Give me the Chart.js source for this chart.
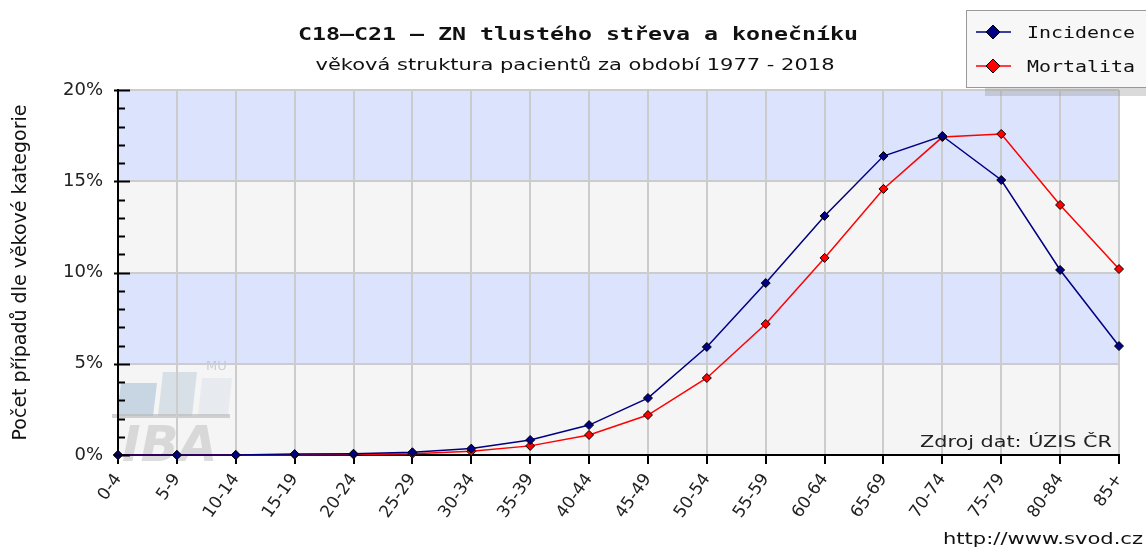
<!DOCTYPE html>
<html>
<head>
<meta charset="utf-8">
<script src="https://cdn.jsdelivr.net/npm/chart.js@4.4.1/dist/chart.umd.min.js"></script>
<style>
  html, body { margin:0; padding:0; background:#fff; }
  #wrap { width:1146px; height:547px; position:relative; }
</style>
</head>
<body>
<div id="wrap"><canvas id="c" width="1146" height="547"></canvas></div>
<script>
'use strict';

// --- Data ---
const ageGroups = ['0-4','5-9','10-14','15-19','20-24','25-29','30-34','35-39','40-44',
  '45-49','50-54','55-59','60-64','65-69','70-74','75-79','80-84','85+'];
const incidence = [0, 0, 0, 0.05, 0.07, 0.15, 0.35, 0.82, 1.64, 3.12, 5.92, 9.42, 13.1, 16.38, 17.48, 15.07, 10.14, 5.97];
const mortalita = [0, 0, 0, 0.02, 0.03, 0.07, 0.2, 0.5, 1.1, 2.19, 4.22, 7.18, 10.8, 14.58, 17.42, 17.59, 13.7, 10.19];
const yTicks = [0, 5, 10, 15, 20];

const titleText = 'C18–C21 – ZN tlustého střeva a konečníku';
const subtitleText = 'věková struktura pacientů za období 1977 - 2018';
const yTitle = 'Počet případů dle věkové kategorie';
const sourceText = 'Zdroj dat: ÚZIS ČR';
const urlText = 'http://www.svod.cz';

// --- Helpers ---
// text stretched horizontally to a target width (the original renderer draws wide glyphs)
function wideText(ctx, txt, x, y, font, targetW, align, color){
  ctx.save();
  ctx.font = font;
  ctx.fillStyle = color || '#111';
  ctx.textBaseline = 'alphabetic';
  const w = ctx.measureText(txt).width;
  const sx = targetW / w;
  let x0 = x;
  if(align === 'center') x0 = x - targetW/2;
  if(align === 'right') x0 = x - targetW;
  ctx.translate(x0, y);
  ctx.scale(sx, 1);
  ctx.textAlign = 'left';
  ctx.fillText(txt, 0, 0);
  ctx.restore();
}
function diamond(ctx, x, y, r, fill){
  ctx.beginPath();
  ctx.moveTo(x, y-r); ctx.lineTo(x+r, y); ctx.lineTo(x, y+r); ctx.lineTo(x-r, y); ctx.closePath();
  ctx.fillStyle = fill; ctx.fill();
  ctx.strokeStyle = '#000'; ctx.lineWidth = 1; ctx.stroke();
}

// --- Background bands, watermark, inner y ticks, texts, legend ---
const decor = {
  id: 'decor',
  beforeDraw(chart){
    const { ctx, chartArea:a, scales:{ y } } = chart;
    ctx.save();
    for(let i=0;i<yTicks.length-1;i++){
      const top = y.getPixelForValue(yTicks[i+1]);
      const bot = y.getPixelForValue(yTicks[i]);
      ctx.fillStyle = (i % 2 === 1) ? '#dce3fc' : '#f5f5f5';
      ctx.fillRect(a.left, top, a.right - a.left, bot - top);
    }
    // IBA watermark
    ctx.globalAlpha = 0.6;
    const px = (x0, y0, w, h, sk) => {
      ctx.beginPath(); ctx.moveTo(x0+sk, y0); ctx.lineTo(x0+w+sk, y0); ctx.lineTo(x0+w, y0+h); ctx.lineTo(x0, y0+h); ctx.closePath(); ctx.fill();
    };
    ctx.fillStyle = '#a9c2d6';
    px(117, 383, 36, 33, 4);
    ctx.fillStyle = '#c4d2de';
    px(158, 372, 34, 44, 5);
    ctx.fillStyle = '#dde4ec';
    px(198, 378, 30, 38, 4);
    ctx.fillStyle = '#b5b5b5';
    ctx.fillRect(112, 414, 118, 4);
    ctx.font = 'italic bold 50px "DejaVu Sans"';
    ctx.fillStyle = '#c4c4c4';
    ctx.textAlign = 'left';
    ctx.fillText('IBA', 122, 461);
    ctx.font = '13px "DejaVu Sans"';
    ctx.fillStyle = '#aab4cc';
    ctx.fillText('MU', 206, 370);
    ctx.restore();
  },
  afterDraw(chart){
    const { ctx, chartArea:a, scales:{ y } } = chart;
    ctx.save();
    // inner ticks on y axis: 1% minor, 5% major
    ctx.strokeStyle = '#000'; ctx.lineWidth = 2;
    for(let v=0; v<=20; v++){
      const py = Math.round(y.getPixelForValue(v)) + 0.5;
      const len = (v % 5 === 0) ? 12 : 7;
      ctx.beginPath(); ctx.moveTo(a.left - (v % 5 === 0 ? 4 : 0), py); ctx.lineTo(a.left + len, py); ctx.stroke();
    }
    ctx.restore();

    wideText(ctx, titleText, 578, 40, 'bold 18px "DejaVu Sans Mono"', 560, 'center', '#111');
    wideText(ctx, subtitleText, 575, 70, '15px "DejaVu Sans"', 519, 'center', '#111');
    wideText(ctx, sourceText, 1112, 447, '16px "DejaVu Sans"', 192, 'right', '#222');
    wideText(ctx, urlText, 1143, 544, '16px "DejaVu Sans"', 200, 'right', '#111');

    // legend box
    ctx.save();
    ctx.fillStyle = 'rgba(150,150,150,0.35)';
    ctx.fillRect(985, 88, 170, 8);
    ctx.fillStyle = '#f7f7f7';
    ctx.fillRect(966.5, 10.5, 190, 77);
    ctx.strokeStyle = '#999'; ctx.lineWidth = 1;
    ctx.strokeRect(966.5, 10.5, 190, 77);
    const ds = chart.data.datasets;
    const rows = [32, 66];
    ds.forEach((d, i) => {
      const ly = rows[i];
      ctx.strokeStyle = d.borderColor; ctx.lineWidth = 1.5;
      ctx.beginPath(); ctx.moveTo(976, ly); ctx.lineTo(1011, ly); ctx.stroke();
      diamond(ctx, 993, ly, 7, d.pointBackgroundColor);
      wideText(ctx, d.label, 1027, ly + 6, '15px "DejaVu Sans Mono"', d.label.length * 12, 'left', '#111');
    });
    ctx.restore();
  }
};

const ctx = document.getElementById('c').getContext('2d');
new Chart(ctx, {
  type: 'line',
  data: {
    labels: ageGroups,
    datasets: [
      { label:'Incidence', data: incidence, borderColor:'#000080', backgroundColor:'#000080',
        pointBackgroundColor:'#000080', pointBorderColor:'#000', pointBorderWidth:1,
        pointStyle:'rectRot', pointRadius:4.5, borderWidth:1.5, tension:0, clip:false },
      { label:'Mortalita', data: mortalita, borderColor:'#ff0000', backgroundColor:'#ff0000',
        pointBackgroundColor:'#ff0000', pointBorderColor:'#000', pointBorderWidth:1,
        pointStyle:'rectRot', pointRadius:4.5, borderWidth:1.5, tension:0, clip:false }
    ]
  },
  options: {
    responsive: false,
    animation: false,
    events: [],
    layout: { padding: { top: 90, right: 27, left: 0, bottom: 0 } },
    plugins: { legend: { display:false }, title: { display:false }, tooltip: { enabled:false } },
    scales: {
      x: {
        type: 'category',
        offset: false,
        grid: { color:'#cccccc', lineWidth:2, drawTicks:true, tickLength:9, tickColor:'#000', tickWidth:2 },
        border: { color:'#000', width:2 },
        ticks: { autoSkip:false, maxRotation:55, minRotation:55, padding:6,
          font:{ family:'"DejaVu Sans"', size:17 }, color:'#222' },
        afterFit(s){ s.height = 92; }
      },
      y: {
        min: 0, max: 20,
        afterBuildTicks(s){ s.ticks = yTicks.map(v => ({ value:v })); },
        grid: { color:'#cccccc', lineWidth:2, drawTicks:false },
        border: { color:'#000', width:2 },
        ticks: { padding:15, callback: v => v + '%', font:{ family:'"DejaVu Sans"', size:18 }, color:'#222' },
        title: { display:true, text:yTitle, font:{ family:'"DejaVu Sans"', size:19 }, color:'#111', padding:{ top:10, bottom:0 } },
        afterFit(s){ s.width = 118; }
      }
    }
  },
  plugins: [decor]
});
</script>
</body>
</html>
